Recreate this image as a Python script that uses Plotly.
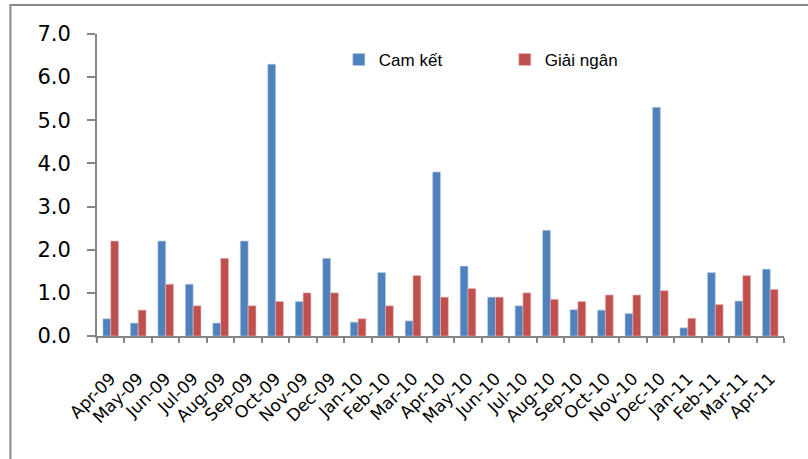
import plotly.graph_objects as go

months = ["Apr-09", "May-09", "Jun-09", "Jul-09", "Aug-09", "Sep-09", "Oct-09", "Nov-09",
          "Dec-09", "Jan-10", "Feb-10", "Mar-10", "Apr-10", "May-10", "Jun-10", "Jul-10",
          "Aug-10", "Sep-10", "Oct-10", "Nov-10", "Dec-10", "Jan-11", "Feb-11", "Mar-11", "Apr-11"]
cam_ket = [0.40, 0.30, 2.20, 1.20, 0.30, 2.20, 6.30, 0.80, 1.80, 0.32, 1.47, 0.35, 3.80,
           1.62, 0.90, 0.70, 2.45, 0.61, 0.60, 0.52, 5.30, 0.19, 1.47, 0.81, 1.55]
giai_ngan = [2.20, 0.60, 1.20, 0.70, 1.80, 0.70, 0.80, 1.00, 1.00, 0.40, 0.70, 1.40, 0.90,
             1.10, 0.90, 1.00, 0.85, 0.80, 0.95, 0.95, 1.05, 0.41, 0.73, 1.40, 1.08]
y_ticks = [0, 1, 2, 3, 4, 5, 6, 7]
y_tick_labels = ["0.0", "1.0", "2.0", "3.0", "4.0", "5.0", "6.0", "7.0"]

fig = go.Figure()
fig.add_trace(go.Bar(x=months, y=cam_ket, name="Cam kết",
                     marker=dict(color="#4F81BD", line=dict(color="#B9CDE5", width=0.6))))
fig.add_trace(go.Bar(x=months, y=giai_ngan, name="Giải ngân",
                     marker=dict(color="#C0504D", line=dict(color="#E6B9B8", width=0.6))))

fig.update_layout(
    width=808, height=459,
    margin=dict(l=97, r=24, t=34, b=123),
    paper_bgcolor="white", plot_bgcolor="white",
    barmode="group", bargap=0.43, bargroupgap=0,
    showlegend=True,
    legend=dict(orientation="h", x=0.352, y=0.914, xanchor="left", yanchor="middle",
                font=dict(family="Liberation Sans, Arial", size=17, color="black"),
                entrywidth=121, entrywidthmode="pixels", bgcolor="rgba(0,0,0,0)"),
    xaxis=dict(
        type="category", showgrid=False, showline=True, linecolor="#868686", linewidth=2,
        ticks="outside", ticklen=5, tickcolor="#868686", tickwidth=2, tickson="boundaries",
        tickangle=-45, tickfont=dict(family="DejaVu Sans", size=17, color="black"),
        ticklabelstandoff=24,
        range=[-0.5, len(months) - 0.5],
    ),
    yaxis=dict(
        range=[0, 7], showgrid=False, showline=True, linecolor="#868686", linewidth=2,
        ticks="outside", ticklen=8, tickcolor="#868686", tickwidth=2,
        tickvals=y_ticks, ticktext=y_tick_labels, ticklabelstandoff=12,
        tickfont=dict(family="DejaVu Sans", size=21, color="black"), zeroline=False,
    ),
    shapes=[dict(type="rect", xref="paper", yref="paper", x0=-0.126, x1=1.2, y0=-0.6, y1=1.096,
                 line=dict(color="#8A8A8A", width=2), fillcolor="rgba(0,0,0,0)", layer="below")],
)

fig.write_html("out.html", config={"displayModeBar": False},
               post_script="document.body.style.margin='0';document.body.style.overflow='hidden';")
